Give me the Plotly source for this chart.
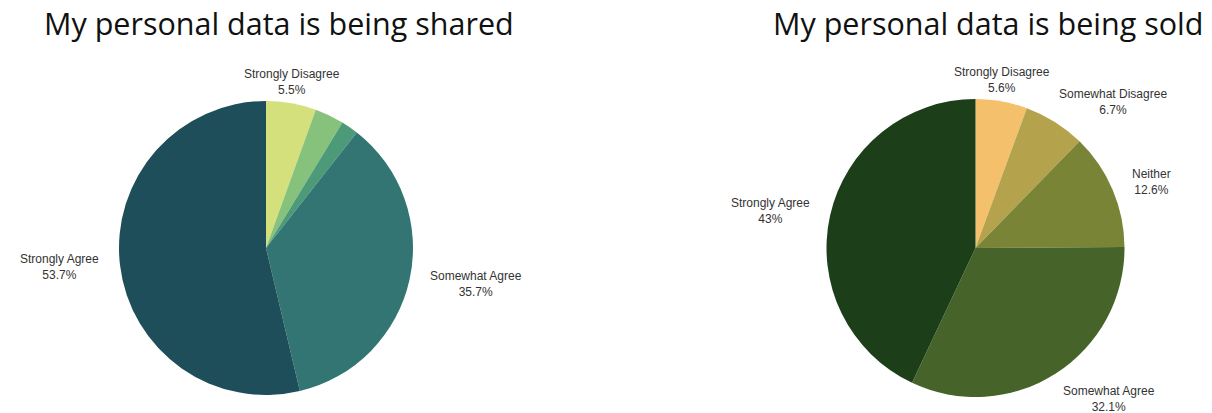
import math
import plotly.graph_objects as go

# Survey responses, in slice order starting at 12 o'clock going clockwise
categories = ["Strongly Disagree", "Somewhat Disagree", "Neither", "Somewhat Agree", "Strongly Agree"]

shared_values = [5.5, 3.2, 1.9, 35.7, 53.7]
sold_values = [5.6, 6.7, 12.6, 32.1, 43]

shared_title = "My personal data is being shared"
sold_title = "My personal data is being sold"

shared_colors = ["#d3e07b", "#86c27b", "#4d9a78", "#327572", "#1f4e5b"]
sold_colors = ["#f4c06b", "#b5a24d", "#7a8437", "#46632a", "#1c3f1a"]

# Which slices carry an outside label
shared_show = [True, False, False, True, True]
sold_show = [True, True, True, True, True]

W, H = 1212, 413

# Pie placement in pixels: centre x, centre y (from top), radius
shared_geom = (266, 248, 147)
sold_geom = (975.5, 248, 149)

label_font = dict(family="Liberation Sans, Arial, sans-serif", size=12, color="#333333")
title_font = dict(family="Open Sans, sans-serif", size=30.5, color="#111111")

# Gap between the rim and a label, by how the label hangs off the rim
rim_gap = {"bottom": 4, "top": 10, "middle": 19}

fig = go.Figure()


def add_pie(values, colors, show, geom):
    cx, cy, r = geom
    fig.add_trace(go.Pie(
        labels=categories,
        values=values,
        sort=False,
        direction="clockwise",
        rotation=0,
        marker=dict(colors=colors, line=dict(width=0)),
        textinfo="none",
        domain=dict(x=[(cx - r) / W, (cx + r) / W], y=[(H - cy - r) / H, (H - cy + r) / H]),
        showlegend=False,
        hoverinfo="label+value",
    ))
    # Outside labels placed around the rim at each slice's mid-angle
    total = sum(values)
    start = 0.0
    for lab, v, s in zip(categories, values, show):
        mid = (start + v / 2) / total * 2 * math.pi
        start += v
        if not s:
            continue
        sn, cs = math.sin(mid), math.cos(mid)
        xa = "left" if sn > 0.2 else ("right" if sn < -0.2 else "center")
        ya = "bottom" if cs > 0.5 else ("top" if cs < -0.5 else "middle")
        d = rim_gap[ya]
        px = cx + (r + d) * sn
        py = cy - (r + d) * cs
        fig.add_annotation(
            text=f"{lab}<br>{v:g}%", x=px / W, y=1 - py / H,
            xref="paper", yref="paper", xanchor=xa, yanchor=ya,
            showarrow=False, font=label_font, align="center",
        )


add_pie(shared_values, shared_colors, shared_show, shared_geom)
add_pie(sold_values, sold_colors, sold_show, sold_geom)

fig.add_annotation(text=shared_title, x=278.5 / W, y=1 - 23 / H, xref="paper", yref="paper",
                   xanchor="center", yanchor="middle", showarrow=False, font=title_font)
fig.add_annotation(text=sold_title, x=987.5 / W, y=1 - 23 / H, xref="paper", yref="paper",
                   xanchor="center", yanchor="middle", showarrow=False, font=title_font)

fig.update_layout(
    width=W,
    height=H,
    margin=dict(l=0, r=0, t=0, b=0),
    paper_bgcolor="white",
    plot_bgcolor="white",
)

fig.write_html("out.html")
